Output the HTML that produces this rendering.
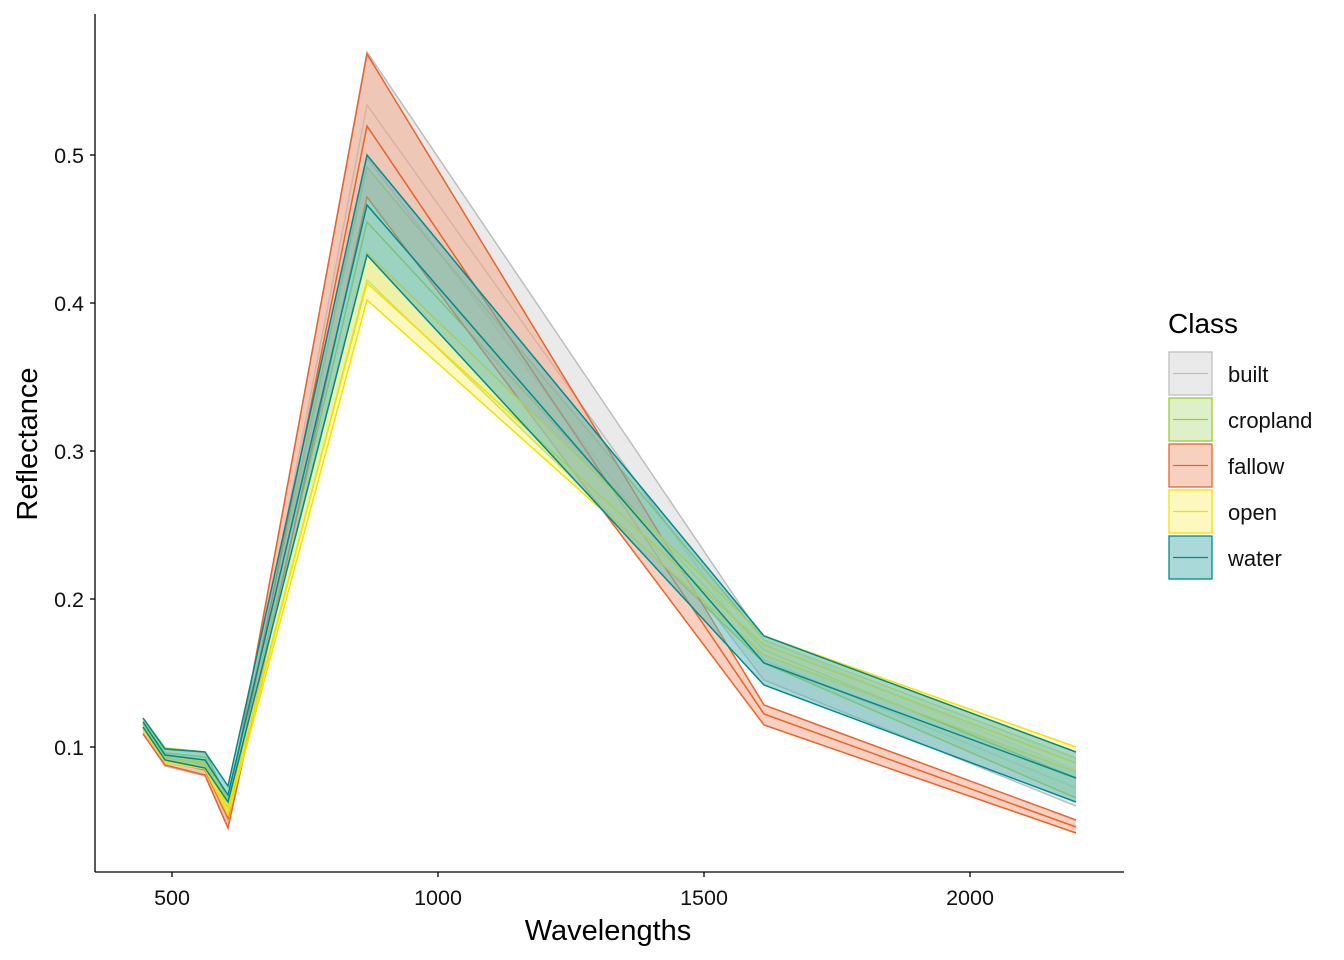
<!DOCTYPE html>
<html><head><meta charset="utf-8"><style>body{margin:0;background:#fff}svg{display:block}text{font-family:"Liberation Sans",Arial,sans-serif}</style></head><body>
<svg width="1344" height="960" viewBox="0 0 1344 960" xmlns="http://www.w3.org/2000/svg">
<g id="series"></g>
<g stroke="#000" stroke-width="1.3" fill="none">
<line x1="95" y1="14" x2="95" y2="872"/><line x1="95" y1="872" x2="1124" y2="872"/>
<line x1="90" y1="747" x2="95" y2="747"/><line x1="90" y1="599" x2="95" y2="599"/><line x1="90" y1="451" x2="95" y2="451"/><line x1="90" y1="303" x2="95" y2="303"/><line x1="90" y1="155" x2="95" y2="155"/>
<line x1="172" y1="872" x2="172" y2="877"/><line x1="438" y1="872" x2="438" y2="877"/><line x1="704" y1="872" x2="704" y2="877"/><line x1="970" y1="872" x2="970" y2="877"/>
</g>
<g font-size="21.5" fill="#111" text-anchor="end">
<text x="84" y="755">0.1</text><text x="84" y="607">0.2</text><text x="84" y="459">0.3</text><text x="84" y="311">0.4</text><text x="84" y="163">0.5</text>
</g>
<g font-size="21.5" fill="#111" text-anchor="middle">
<text x="172" y="905">500</text><text x="438" y="905">1000</text><text x="704" y="905">1500</text><text x="970" y="905">2000</text>
</g>
<text x="608" y="940" font-size="29" text-anchor="middle">Wavelengths</text>
<text transform="translate(37,444) rotate(-90)" font-size="29" text-anchor="middle">Reflectance</text>
<text x="1168" y="333" font-size="28">Class</text>
<g id="legend"></g>
</svg>
<script>
var X=[143,165,205,228,367,764,1076];
var D=[
["built","#bebebe",[725,757,765,812,52,640,770],[728,762,770,820,105,660,788],[733,766,776,828,158,680,806]],
["cropland","#9acd32",[718,748,752,800,167,640,758],[722,753,757,807,222,650,778],[727,758,763,813,280,663,798]],
["fallow","#e8642c",[724,757,765,808,54,705,820],[729,760,770,818,126,714,827],[734,765,775,828,197,725,833]],
["open","#f2e200",[721,755,762,800,253,636,747],[724,758,765,808,283,645,763],[729,762,769,815,300,655,772]],
["water","#008b8b",[718,749,752,786,155,636,752],[722,755,760,795,205,663,778],[727,760,768,802,255,685,802]]];
var fills={"built":"#d9d9d9","cropland":"#c3e39a","fallow":"#f0a98a","open":"#fbf38a","water":"#66b9b9"};
var ns="http://www.w3.org/2000/svg",g=document.getElementById("series"),lg=document.getElementById("legend");
function el(t,a,p){var e=document.createElementNS(ns,t);for(var k in a)e.setAttribute(k,a[k]);p.appendChild(e);return e;}
function pts(a){return a.map(function(v,i){return X[i]+","+v}).join(" ");}
D.forEach(function(d,i){
 var poly=X.map(function(x,j){return x+","+d[2][j]}).concat(X.slice().reverse().map(function(x,j){return x+","+d[4][6-j]})).join(" ");
 el("polygon",{points:poly,fill:fills[d[0]],"fill-opacity":"0.55",stroke:"none"},g);
 [2,3,4].forEach(function(k){el("polyline",{points:pts(d[k]),fill:"none",stroke:d[1],"stroke-width":"1.5"},g);});
 var y=352+i*46;
 el("rect",{x:1169,y:y,width:43,height:43,fill:fills[d[0]],"fill-opacity":"0.55",stroke:d[1],"stroke-width":"1.3"},lg);
 el("line",{x1:1173,y1:y+21.5,x2:1208,y2:y+21.5,stroke:d[1],"stroke-width":"1.3"},lg);
 var t=el("text",{x:1228,y:y+30,"font-size":"22",fill:"#111"},lg);t.textContent=d[0];
});
</script>
</body></html>
